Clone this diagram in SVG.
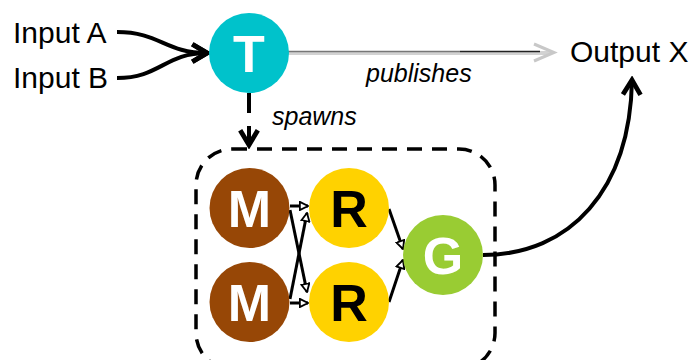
<svg xmlns="http://www.w3.org/2000/svg" width="695" height="360" viewBox="0 0 695 360">
  <style>
    .lbl { font-family: "Liberation Sans", Arial, sans-serif; font-size: 30px; fill: #000; }
    .edge-lbl { font-family: "Liberation Sans", Arial, sans-serif; font-size: 25px; font-style: italic; fill: #000; }
    .node-txt { font-family: "Liberation Sans", Arial, sans-serif; font-size: 52px; font-weight: bold; text-anchor: middle; }
    .wire { fill: none; stroke: #000; stroke-width: 4; stroke-linecap: butt; }
    .thin { fill: none; stroke: #000; stroke-width: 3; }
  </style>
  <defs>
    <marker id="vhead" viewBox="0 0 12 12" refX="10" refY="6" markerWidth="5.5" markerHeight="5.5" markerUnits="strokeWidth" orient="auto">
      <path d="M2 1.2 L10 6 L2 10.8" fill="none" stroke="#000" stroke-width="2.6"/>
    </marker>
    <marker id="small" viewBox="0 0 10 10" refX="9" refY="5" markerWidth="3.4" markerHeight="3.4" markerUnits="strokeWidth" orient="auto">
      <path d="M1 1 L9 5 L1 9 Z" fill="#fff" stroke="#000" stroke-width="1.8"/>
    </marker>
  </defs>

  <!-- labels -->
  <text class="lbl" x="13" y="43">Input A</text>
  <text class="lbl" x="13" y="88">Input B</text>
  <text class="lbl" x="570" y="62">Output X</text>

  <!-- connectors -->
  <g id="connectors">
    <path class="wire" d="M117 32 C160 32 165 53 207 53" marker-end="url(#vhead)"/>
    <path class="wire" d="M117 78 C160 78 165 53 207 53" marker-end="url(#vhead)"/>

    <!-- publishes -->
    <line x1="288" y1="53" x2="552" y2="53" stroke="#d2d2d2" stroke-width="4"/>
    <line x1="288" y1="51.5" x2="460" y2="51.5" stroke="#777" stroke-width="1.3"/>
    <line x1="460" y1="51.5" x2="540" y2="51.5" stroke="#222" stroke-width="1.5"/>
    <path d="M534 44 L554 52.5 L534 61" fill="none" stroke="#c8c8c8" stroke-width="3"/>
    <text class="edge-lbl" x="366" y="82">publishes</text>

    <!-- spawns -->
    <path class="wire" d="M249 93 V145" stroke-dasharray="20 13" marker-end="url(#vhead)"/>
    <text class="edge-lbl" x="272" y="125">spawns</text>

    <!-- maps to reduces -->
    <line class="thin" x1="290" y1="206" x2="308" y2="206" marker-end="url(#small)"/>
    <line class="thin" x1="290" y1="210" x2="307" y2="292" marker-end="url(#small)"/>
    <line class="thin" x1="290" y1="303" x2="308" y2="303" marker-end="url(#small)"/>
    <line class="thin" x1="290" y1="299" x2="307" y2="213" marker-end="url(#small)"/>

    <!-- reduces to gather -->
    <line class="thin" x1="389" y1="209" x2="403" y2="249" marker-end="url(#small)"/>
    <line class="thin" x1="389" y1="302" x2="403" y2="260" marker-end="url(#small)"/>

    <!-- gather to output -->
    <path class="wire" d="M483 255 C570 255 630 190 632 80" marker-end="url(#vhead)"/>
  </g>

  <!-- job container -->
  <rect id="job" x="196" y="149" width="299" height="220" rx="36" fill="none" stroke="#000" stroke-width="3.5" stroke-dasharray="15 10"/>

  <g id="T">
    <circle cx="249" cy="53" r="40" fill="#00C2CB"/>
    <text class="node-txt" x="249" y="72" fill="#fff">T</text>
  </g>
  <g id="M1">
    <circle cx="249.5" cy="208" r="40" fill="#974706"/>
    <text class="node-txt" x="249.5" y="227" fill="#fff">M</text>
  </g>
  <g id="M2">
    <circle cx="249.5" cy="302" r="40" fill="#974706"/>
    <text class="node-txt" x="249.5" y="321" fill="#fff">M</text>
  </g>
  <g id="R1">
    <circle cx="349" cy="208" r="40" fill="#FFD200"/>
    <text class="node-txt" x="349" y="227" fill="#000">R</text>
  </g>
  <g id="R2">
    <circle cx="349" cy="302" r="40" fill="#FFD200"/>
    <text class="node-txt" x="349" y="321" fill="#000">R</text>
  </g>
  <g id="G">
    <circle cx="443" cy="255" r="40" fill="#99CC33"/>
    <text class="node-txt" x="443" y="274" fill="#fff">G</text>
  </g>
</svg>
